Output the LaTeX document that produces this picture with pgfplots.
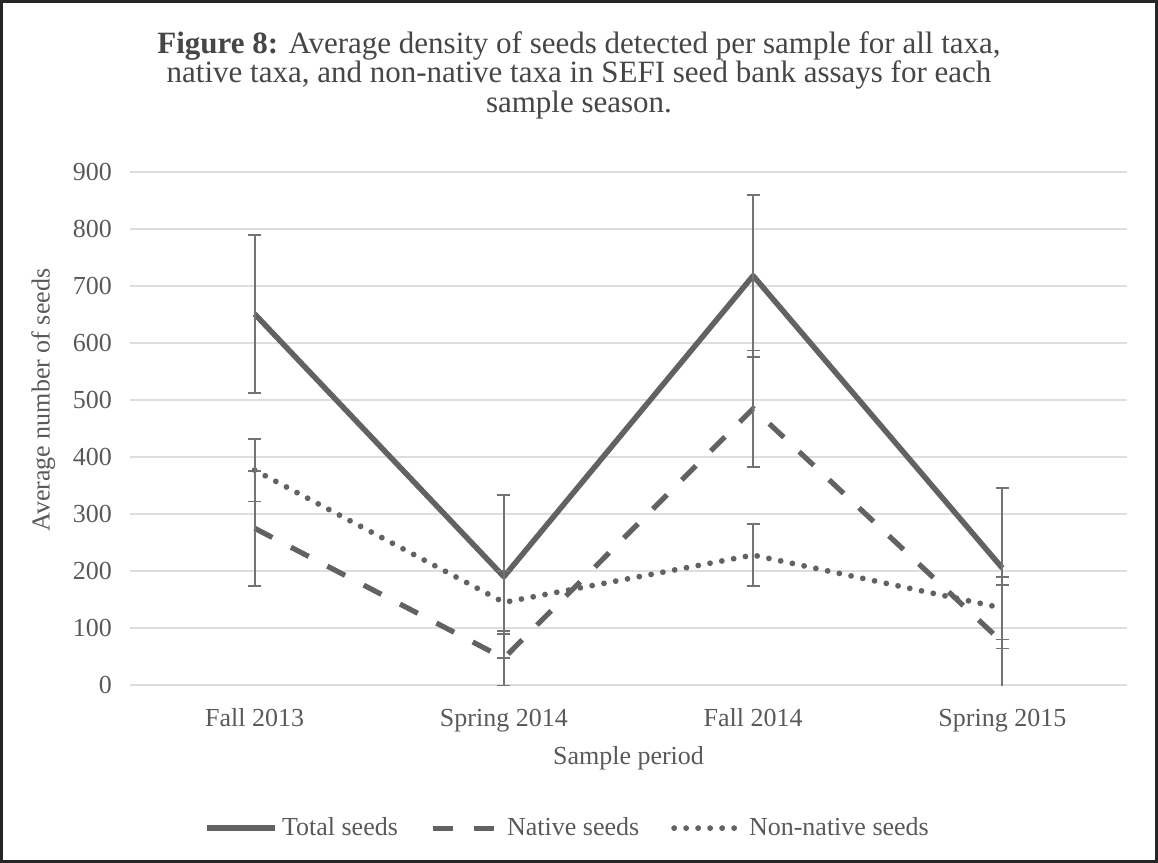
\documentclass[border=0pt]{standalone}
\usepackage{fontspec}
\setmainfont{Liberation Serif}
\usepackage{pgfplots}
\pgfplotsset{compat=1.18}
\definecolor{txt}{RGB}{89,89,89}
\definecolor{ttl}{RGB}{70,70,70}
\definecolor{gridc}{RGB}{222,222,222}
\definecolor{linec}{RGB}{98,98,98}
\definecolor{errc}{RGB}{115,115,115}
\begin{document}
\begin{tikzpicture}
\begin{axis}[
  scale only axis, width=498.5pt, height=256.5pt,
  xmin=-0.5, xmax=3.5, ymin=0, ymax=900,
  ytick={0,100,...,900},
  xtick={0,1,2,3},
  xticklabels={Fall 2013, Spring 2014, Fall 2014, Spring 2015},
  ymajorgrids, grid style={color=gridc, line width=0.75pt},
  axis line style={draw=none},
  major tick length=0pt,
  tick label style={font=\fontsize{13}{15}\selectfont, text=txt},
  /pgf/number format/assume math mode=true,
  xticklabel style={anchor=base, yshift=-20.5pt},
  yticklabel style={anchor=east, xshift=-5.5pt},
  label style={font=\fontsize{13}{15}\selectfont, text=txt},
  ylabel={Average number of seeds},
  ylabel style={at={(axis description cs:-0.087,0.555)}, anchor=center},
  xlabel={Sample period},
  xlabel style={at={(axis description cs:0.5,-0.142)}, anchor=center},
  legend style={at={(axis description cs:0.44,-0.279)}, anchor=center, draw=none, fill=none,
     font=\fontsize{13}{15}\selectfont, text=txt, legend columns=3,
     /tikz/every even column/.append style={column sep=14pt},
     legend cell align=left},
  legend image code/.code={\draw[#1] (0pt,0pt) -- (34pt,0pt);},
  error bars/y dir=both, error bars/y explicit,
  error bars/error bar style={color=errc, line width=0.9pt, solid},
  error bars/error mark options={rotate=90, mark size=3.3pt, color=errc, line width=0.9pt, solid},
]
\coordinate (A) at (rel axis cs:0,0);
\addplot[color=linec, line width=2.75pt, line join=round] coordinates {
  (0,651) +- (0,139)
  (1,190) +- (0,143)
  (2,718) +- (0,142)
  (3,205) +- (0,141)
};
\addlegendentry{Total seeds}
\addplot[color=linec, line width=2.6pt, dash pattern=on 10pt off 10.5pt, line cap=butt] coordinates {
  (0,275) +- (0,101)
  (1,47)  +- (0,48)
  (2,485) +- (0,102)
  (3,75)  +- (0,100)
};
\addlegendentry{Native seeds}
\addplot[color=linec, line width=2.9pt, dash pattern=on 0pt off 6pt, line cap=round] coordinates {
  (0,377) +- (0,55)
  (1,145) +- (0,55)
  (2,228) +- (0,55)
  (3,135) +- (0,55)
};
\addlegendentry{Non-native seeds}
\end{axis}
\pgfresetboundingbox
\path[use as bounding box] ([shift={(-65pt,-89pt)}]A) rectangle ([shift={(514pt,342.5pt)}]A);
\draw[line width=1.5pt, color=black!85] ([shift={(-64.25pt,-88.25pt)}]A) rectangle ([shift={(513.25pt,341.75pt)}]A);
\node[align=center, text=ttl, font=\fontsize{15.5}{14.8}\selectfont, anchor=north, inner sep=0pt] at ([shift={(224.5pt,327pt)}]A)
 {\textbf{Figure 8:} Average density of seeds detected per sample for all taxa,\\
  native taxa, and non-native taxa in SEFI seed bank assays for each\\
  sample season.};
\end{tikzpicture}
\end{document}
